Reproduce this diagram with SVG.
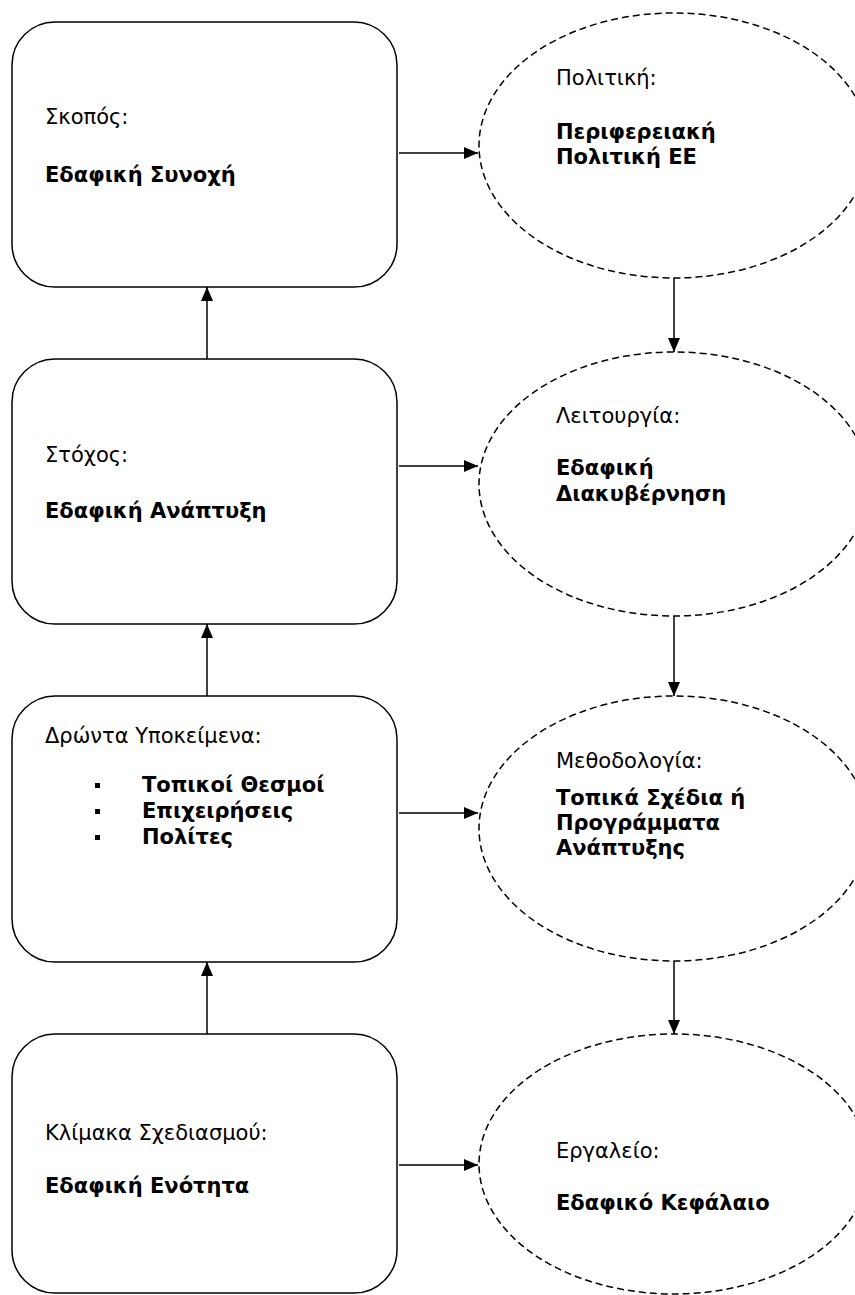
<svg xmlns="http://www.w3.org/2000/svg" width="855" height="1295" viewBox="0 0 855 1295">
<style>
.box{fill:#fff;stroke:#000;stroke-width:1.5}
.ell{fill:#fff;stroke:#000;stroke-width:1.5;stroke-dasharray:7 4}
.t{font-family:"DejaVu Sans",Verdana,sans-serif;font-size:21px;fill:#000}
.b{font-weight:bold}
.c{stroke:#000;stroke-width:1.5;fill:none;marker-end:url(#ah)}
</style>
<defs>
<marker id="ah" viewBox="0 0 14 12" refX="14" refY="6" markerWidth="14" markerHeight="12" markerUnits="userSpaceOnUse" orient="auto">
<path d="M0,0 L14,6 L0,12 Z" fill="#000"/>
</marker>
</defs>
<g id="connectors">
<line class="c" x1="207" y1="359" x2="207" y2="287"/>
<line class="c" x1="207" y1="696" x2="207" y2="624"/>
<line class="c" x1="207" y1="1034" x2="207" y2="962"/>
<line class="c" x1="399" y1="153" x2="478" y2="153"/>
<line class="c" x1="399" y1="466" x2="478" y2="466"/>
<line class="c" x1="399" y1="813" x2="478" y2="813"/>
<line class="c" x1="399" y1="1165" x2="478" y2="1165"/>
<line class="c" x1="674" y1="278" x2="674" y2="352"/>
<line class="c" x1="674" y1="616" x2="674" y2="696"/>
<line class="c" x1="674" y1="961" x2="674" y2="1034"/>
</g>
<g id="box-skopos">
<rect class="box" x="12" y="22" width="385" height="265" rx="43"/>
<text class="t" x="45" y="124">Σκοπός:</text>
<text class="t b" x="45" y="182">Εδαφική Συνοχή</text>
</g>
<g id="box-stoxos">
<rect class="box" x="12" y="359" width="385" height="265" rx="43"/>
<text class="t" x="45" y="462">Στόχος:</text>
<text class="t b" x="45" y="518">Εδαφική Ανάπτυξη</text>
</g>
<g id="box-drwnta">
<rect class="box" x="12" y="696" width="385" height="266" rx="43"/>
<text class="t" x="45" y="743">Δρώντα Υποκείμενα:</text>
<rect x="95" y="783" width="5" height="5"/>
<rect x="95" y="809" width="5" height="5"/>
<rect x="95" y="835" width="5" height="5"/>
<text class="t b" x="142" y="792">Τοπικοί Θεσμοί</text>
<text class="t b" x="142" y="818">Επιχειρήσεις</text>
<text class="t b" x="142" y="844">Πολίτες</text>
</g>
<g id="box-klimaka">
<rect class="box" x="12" y="1034" width="385" height="259" rx="43"/>
<text class="t" x="45" y="1140">Κλίμακα Σχεδιασμού:</text>
<text class="t b" x="45" y="1193">Εδαφική Ενότητα</text>
</g>
<g id="ell-politiki">
<ellipse class="ell" cx="674" cy="145.5" rx="195" ry="132.5"/>
<text class="t" x="556" y="85">Πολιτική:</text>
<text class="t b" x="556" y="139">Περιφερειακή</text>
<text class="t b" x="556" y="164">Πολιτική ΕΕ</text>
</g>
<g id="ell-leitourgia">
<ellipse class="ell" cx="674" cy="484" rx="195" ry="132"/>
<text class="t" x="556" y="423">Λειτουργία:</text>
<text class="t b" x="556" y="475">Εδαφική</text>
<text class="t b" x="556" y="501">Διακυβέρνηση</text>
</g>
<g id="ell-methodologia">
<ellipse class="ell" cx="674" cy="828.5" rx="195" ry="132.5"/>
<text class="t" x="556" y="768">Μεθοδολογία:</text>
<text class="t b" x="556" y="805">Τοπικά Σχέδια ή</text>
<text class="t b" x="556" y="830">Προγράμματα</text>
<text class="t b" x="556" y="855">Ανάπτυξης</text>
</g>
<g id="ell-ergaleio">
<ellipse class="ell" cx="674" cy="1164" rx="195" ry="130"/>
<text class="t" x="556" y="1158">Εργαλείο:</text>
<text class="t b" x="556" y="1210">Εδαφικό Κεφάλαιο</text>
</g>
</svg>
